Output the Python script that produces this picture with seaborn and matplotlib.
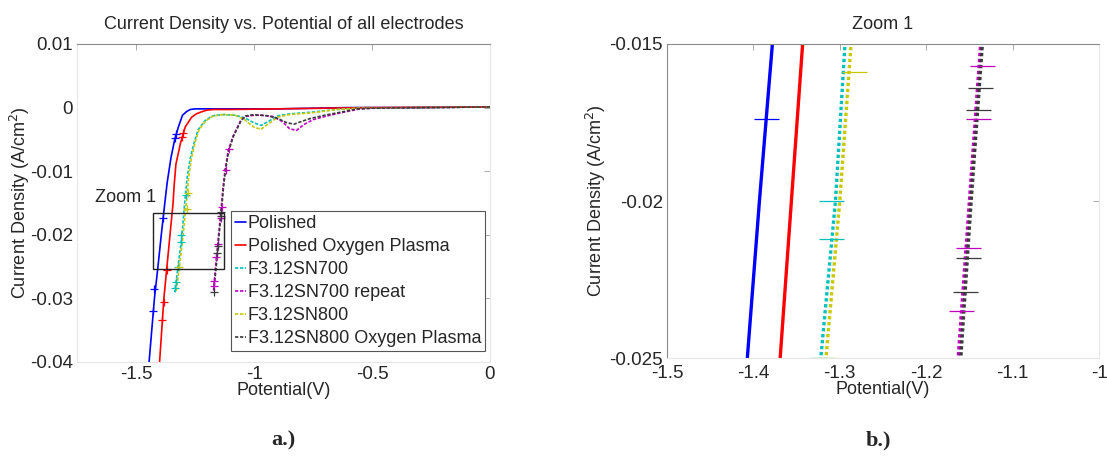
import numpy as np
import pandas as pd
import matplotlib
matplotlib.use("Agg")
import matplotlib.pyplot as plt
from matplotlib.patches import Rectangle
import seaborn as sns

# ---- measured polarisation curves: potential (V) and current density (A/cm^2) ----
series_names = ["Polished", "Polished Oxygen Plasma", "F3.12SN700",
                "F3.12SN700 repeat", "F3.12SN800", "F3.12SN800 Oxygen Plasma"]

polished_v = [0.0, -0.3, -0.6, -0.9, -1.1, -1.2, -1.25, -1.27, -1.285, -1.303, -1.320,
              -1.336, -1.352, -1.368, -1.378, -1.393, -1.407, -1.422, -1.447]
polished_i = [0.0001, 0.0, 0.0, -0.0002, -0.0002, -0.0002, -0.0002, -0.0003, -0.0006,
              -0.0012, -0.003, -0.005, -0.0079, -0.0118, -0.015, -0.020, -0.025, -0.030,
              -0.041]

polished_o2_v = [0.0, -0.5, -0.9, -1.1, -1.17, -1.2, -1.225, -1.245, -1.264, -1.291,
                 -1.311, -1.331, -1.339, -1.343, -1.356, -1.369, -1.382, -1.402]
polished_o2_i = [0.0001, 0.0, -0.0002, -0.0003, -0.0003, -0.0004, -0.0007, -0.001,
                 -0.0015, -0.003, -0.0055, -0.0089, -0.0125, -0.015, -0.020, -0.025,
                 -0.030, -0.041]

sn700_v = [0.0, -0.3, -0.55, -0.65, -0.75, -0.85, -0.9, -0.94, -0.97, -1.0, -1.04, -1.08,
           -1.13, -1.176, -1.209, -1.237, -1.254, -1.27, -1.283, -1.294, -1.305,
           -1.322, -1.336]
sn700_i = [0.0001, 0.0, -0.0001, -0.0003, -0.0007, -0.001, -0.0013, -0.0022, -0.0028,
           -0.0024, -0.0016, -0.0012, -0.0011, -0.0013, -0.0021, -0.0035, -0.0055, -0.0079,
           -0.0109, -0.015, -0.020, -0.025, -0.029]

sn700r_v = [0.0, -0.3, -0.5, -0.55, -0.63, -0.7, -0.75, -0.79, -0.82, -0.85, -0.88, -0.92,
            -0.97, -1.0, -1.035, -1.056, -1.089, -1.11, -1.123, -1.132, -1.137, -1.150,
            -1.163, -1.172]
sn700r_i = [0.0001, 0.0, -0.0001, -0.0002, -0.0008, -0.0014, -0.0019, -0.0027, -0.0036,
            -0.0033, -0.0022, -0.0014, -0.0012, -0.0012, -0.0014, -0.002, -0.0045, -0.0069,
            -0.0099, -0.0128, -0.015, -0.020, -0.025, -0.029]

sn800_v = [0.0, -0.3, -0.55, -0.65, -0.75, -0.85, -0.9, -0.94, -0.97, -1.0, -1.04, -1.08,
           -1.13, -1.172, -1.205, -1.233, -1.25, -1.265, -1.277, -1.287, -1.300,
           -1.316, -1.33]
sn800_i = [0.0001, 0.0, -0.0001, -0.0003, -0.0008, -0.0011, -0.0015, -0.0026, -0.0034,
           -0.0031, -0.0019, -0.0012, -0.0011, -0.0013, -0.0021, -0.0035, -0.0055, -0.008,
           -0.011, -0.015, -0.020, -0.025, -0.029]

sn800_o2_v = [0.0, -0.3, -0.5, -0.56, -0.63, -0.7, -0.76, -0.8, -0.83, -0.86, -0.9, -0.94,
              -1.0, -1.035, -1.054, -1.087, -1.108, -1.121, -1.13, -1.135, -1.148, -1.160,
              -1.17]
sn800_o2_i = [0.0001, 0.0, -0.0001, -0.0002, -0.0007, -0.0012, -0.0017, -0.0022, -0.0026,
              -0.0024, -0.0017, -0.0013, -0.0011, -0.0013, -0.002, -0.0045, -0.0069,
              -0.0099, -0.0128, -0.015, -0.020, -0.025, -0.0285]

# error-bar positions (potential, current density) per electrode
polished_err_v = [-1.33, -1.334, -1.385, -1.424, -1.43]
polished_err_i = [-0.0042, -0.0048, -0.0174, -0.0285, -0.032]
polished_o2_err_v = [-1.30, -1.305, -1.37, -1.383, -1.388]
polished_o2_err_i = [-0.0040, -0.0047, -0.0255, -0.0305, -0.0334]
sn700_err_v = [-1.29, -1.31, -1.31, -1.322, -1.33, -1.333]
sn700_err_i = [-0.0138, -0.0200, -0.0212, -0.0250, -0.0275, -0.0283]
sn700r_err_v = [-1.105, -1.118, -1.135, -1.14, -1.152, -1.16, -1.168, -1.17]
sn700r_err_i = [-0.0065, -0.0098, -0.0157, -0.0174, -0.0215, -0.0235, -0.0272, -0.028]
sn800_err_v = [-1.283, -1.316, -1.281]
sn800_err_i = [-0.0159, -0.0250, -0.0135]
sn800_o2_err_v = [-1.138, -1.14, -1.152, -1.155, -1.17]
sn800_o2_err_i = [-0.0164, -0.0171, -0.0218, -0.0229, -0.029]

left_xticks = [-1.5, -1.0, -0.5, 0.0]
left_xticklabels = ["-1.5", "-1", "-0.5", "0"]
left_yticks = [-0.04, -0.03, -0.02, -0.01, 0.0, 0.01]
left_yticklabels = ["-0.04", "-0.03", "-0.02", "-0.01", "0", "0.01"]
right_xticks = [-1.5, -1.4, -1.3, -1.2, -1.1, -1.0]
right_xticklabels = ["-1.5", "-1.4", "-1.3", "-1.2", "-1.1", "-1"]
right_yticks = [-0.025, -0.02, -0.015]
right_yticklabels = ["-0.025", "-0.02", "-0.015"]

curves = [(polished_v, polished_i), (polished_o2_v, polished_o2_i), (sn700_v, sn700_i),
          (sn700r_v, sn700r_i), (sn800_v, sn800_i), (sn800_o2_v, sn800_o2_i)]
errs = [(polished_err_v, polished_err_i), (polished_o2_err_v, polished_o2_err_i),
        (sn700_err_v, sn700_err_i), (sn700r_err_v, sn700r_err_i),
        (sn800_err_v, sn800_err_i), (sn800_o2_err_v, sn800_o2_err_i)]

df = pd.concat([pd.DataFrame({"Potential": v, "Current": i, "Series": n})
                for n, (v, i) in zip(series_names, curves)], ignore_index=True)

palette = {"Polished": "#0000ff", "Polished Oxygen Plasma": "#ff0000",
           "F3.12SN700": "#00bfbf", "F3.12SN700 repeat": "#bf00bf",
           "F3.12SN800": "#c8c800", "F3.12SN800 Oxygen Plasma": "#3a3a3a"}


def dash_map(pattern):
    return {n: ("" if n.startswith("Polished") else pattern) for n in series_names}


sns.set_theme(style="white")
plt.rcParams["font.family"] = ["Liberation Sans", "DejaVu Sans"]

fig = plt.figure(figsize=(11.07, 4.72), dpi=100)
ax1 = fig.add_axes([0.0696, 0.2331, 0.3730, 0.6737])
ax2 = fig.add_axes([0.6025, 0.2415, 0.3903, 0.6653])


def draw(ax, lw, pattern, marker, msize):
    sns.lineplot(data=df, x="Potential", y="Current", hue="Series", style="Series",
                 palette=palette, dashes=dash_map(pattern), sort=False, estimator=None,
                 units="Series", linewidth=lw, ax=ax, legend=True)
    for n, (ev, ei) in zip(series_names, errs):
        ax.plot(ev, ei, linestyle="none", marker=marker, markersize=msize,
                markeredgewidth=0.9, color=palette[n])
    ax.tick_params(direction="in", length=4, width=0.6, color="#9a9a9a",
                   top=True, right=True, labelsize=13.5, pad=3)
    ax.set_xlabel("Potential(V)", fontsize=13, labelpad=-1)
    ax.set_ylabel("Current Density (A/cm$^2$)", fontsize=13)
    for s in ax.spines.values():
        s.set_linewidth(0.8)
        s.set_color("#e6e6e6")


# ---- panel a: full sweep ----
draw(ax1, 1.2, (2, 1), "+", 6)
ax1.set_xlim(-1.75, 0)
ax1.set_ylim(-0.04, 0.01)
ax1.set_xticks(left_xticks, left_xticklabels)
ax1.set_yticks(left_yticks, left_yticklabels)
ax1.spines["top"].set_color("#8a8a8a")
ax1.set_title("Current Density vs. Potential of all electrodes", fontsize=13, pad=11)
ax1.yaxis.set_label_coords(-0.11, 0.5)
ax1.add_patch(Rectangle((-1.428, -0.0254), 0.301, 0.0089, fill=False,
                        edgecolor="#222222", linewidth=1.0, zorder=5))
ax1.text(-1.414, -0.0141, "Zoom 1", fontsize=13, ha="right", va="center")
handles, labels = ax1.get_legend_handles_labels()
leg = ax1.legend(handles, labels, loc="lower right", bbox_to_anchor=(0.988, 0.035),
                 borderaxespad=0, fontsize=13, handlelength=0.6, handletextpad=0.1,
                 borderpad=0.22, labelspacing=0.33, frameon=True, fancybox=False,
                 edgecolor="#555555", framealpha=1)
leg.get_frame().set_linewidth(0.8)

# ---- panel b: zoomed window ----
draw(ax2, 2.4, (1, 0.8), "_", 18)
ax2.set_xlim(-1.5, -1.0)
ax2.set_ylim(-0.025, -0.015)
ax2.set_xticks(right_xticks, right_xticklabels)
ax2.set_yticks(right_yticks, right_yticklabels)
ax2.tick_params(axis="x", pad=5)
ax2.spines["top"].set_color("#8a8a8a")
ax2.spines["left"].set_color("#8a8a8a")
ax2.set_title("Zoom 1", fontsize=13, pad=11)
ax2.yaxis.set_label_coords(-0.137, 0.5)
ax2.get_legend().remove()

fig.text(0.2556, 0.066, "a.)", fontsize=16, fontweight="bold",
         family="Liberation Serif", ha="center", va="center")
fig.text(0.7931, 0.066, "b.)", fontsize=16, fontweight="bold",
         family="Liberation Serif", ha="center", va="center")

fig.savefig("out.png", dpi=100)
